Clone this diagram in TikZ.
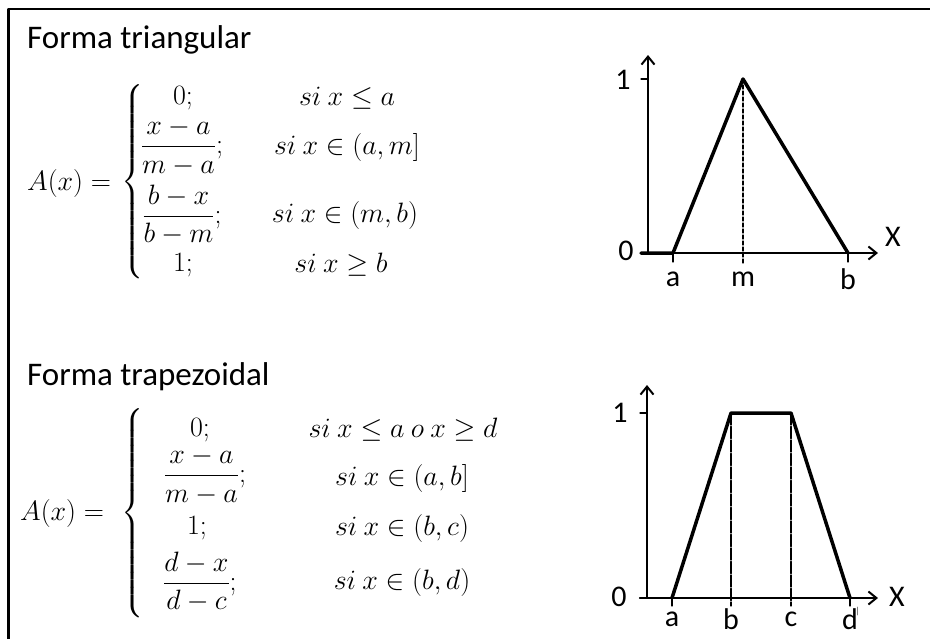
\RequirePackage{fix-cm}
\documentclass[tikz,border=0pt]{standalone}
\usepackage{amsmath}
\usepackage{fontspec}
\setmainfont{Carlito}
\usetikzlibrary{arrows.meta}
\tikzset{
	titulo/.style={font=\fontsize{33}{36}\selectfont, anchor=base west, inner sep=0pt},
	formula/.style={font=\fontsize{28}{32}\selectfont, inner sep=0pt},
	etiq/.style={font=\fontsize{30}{32}\selectfont, inner sep=0pt},
	eje/.style={line width=1.2pt},
	curva/.style={line width=3.5pt},
}
\newcommand{\llave}[1]{$\left\{\vrule height #1 depth #1 width 0pt\right.$}
\begin{document}
\begin{tikzpicture}[x=1pt, y=-1pt, >={Straight Barb[length=8pt,width=13pt,line width=2pt]}, line join=round, line cap=round]
	\useasboundingbox (0,0) rectangle (930,638);
	\draw[line width=2.5pt] (8.5,640) -- (8.5,9) -- (932,9);
	% forma triangular
	\node[titulo] (tri) at (27,48) {Forma triangular};
	\node[formula, anchor=west] (triA) at (27,183) {$A(x) =$};
	\node[formula, anchor=west] (triLlave) at (121,182) {\llave{91pt}};
	\node[formula] (tri0) at (183,98) {$0;$};
	\node[formula] (tri1) at (182,147) {$\dfrac{x-a}{m-a};$};
	\node[formula] (tri2) at (182,215) {$\dfrac{b-x}{b-m};$};
	\node[formula] (tri3) at (183,265) {$1;$};
	\node[formula] (triS0) at (347,98) {$si\ x \le a$};
	\node[formula] (triS1) at (347,147) {$si\ x \in (a,m]$};
	\node[formula] (triS2) at (345,215) {$si\ x \in (m,b)$};
	\node[formula] (triS3) at (341,265) {$si\ x \ge b$};
	\coordinate (a1) at (673,253);
	\coordinate (m1) at (743,79);
	\coordinate (b1) at (848,253);
	\draw[eje,->] (648,253) -- (648,55);
	\draw[eje] (641,79) -- (648,79);
	\draw[line width=2.2pt,->] (641,253) -- (878,253);
	\draw[eje,dash pattern=on 4pt off 2pt] (m1) -- (743,263);
	\foreach \p/\t in {673/a,848/b}
	\draw[eje] (\p,253) -- (\p,262);
	\draw[curva] (641,253) -- (a1) -- (m1) -- (b1);
	\foreach \p/\t in {673/a,743/m,848/b}
	\node[etiq] (t1\t) at (\p,279) {\t};
	\node[etiq] (t1cero) at (626,251) {0};
	\node[etiq] (t1uno) at (623,80) {1};
	\node[etiq] (t1X) at (893,237) {X};
	% forma trapezoidal
	\node[titulo] (trap) at (27,385) {Forma trapezoidal};
	\node[formula, anchor=west] (trapA) at (20,513) {$A(x) =$};
	\node[formula, anchor=west] (trapLlave) at (121,513) {\llave{94pt}};
	\node[formula] (trap0) at (200,430) {$0;$};
	\node[formula] (trap1) at (205,476) {$\dfrac{x-a}{m-a};$};
	\node[formula] (trap2) at (197,528) {$1;$};
	\node[formula] (trap3) at (200,582) {$\dfrac{d-x}{d-c};$};
	\node[formula] (trapS0) at (403,430) {$si\ x \le a\ o\ x \ge d$};
	\node[formula] (trapS1) at (402,478) {$si\ x \in (a,b]$};
	\node[formula] (trapS2) at (402,528) {$si\ x \in (b,c)$};
	\node[formula] (trapS3) at (402,582) {$si\ x \in (b,d)$};
	\coordinate (a2) at (672,598);
	\coordinate (b2) at (731,413);
	\coordinate (c2) at (791,413);
	\coordinate (d2) at (850,598);
	\draw[eje,->] (647,598) -- (647,385);
	\draw[line width=2.2pt] (647,413) -- (647,473);
	\draw[eje] (640,413) -- (647,413);
	\draw[eje,->] (640,598) -- (878,598);
	\draw[line width=2.2pt] (640,598) -- (757,598);
	\draw[eje,dash pattern=on 12pt off 1.5pt] (b2) -- (731,606);
	\draw[eje,dash pattern=on 12pt off 1.5pt] (c2) -- (791,606);
	\foreach \p in {672,850}
	\draw[eje] (\p,598) -- (\p,606);
	\draw[line width=0.8pt, gray] (857,607) -- (857,615);
	\draw[curva] (a2) -- (b2) -- (c2) -- (d2);
	\foreach \p/\t in {672/a,731/b,791/c,850/d}
	\node[etiq] (t2\t) at (\p,619) {\t};
	\node[etiq] (t2cero) at (619,597) {0};
	\node[etiq] (t2uno) at (620,413) {1};
	\node[etiq] (t2X) at (897,597) {X};
\end{tikzpicture}
\end{document}
